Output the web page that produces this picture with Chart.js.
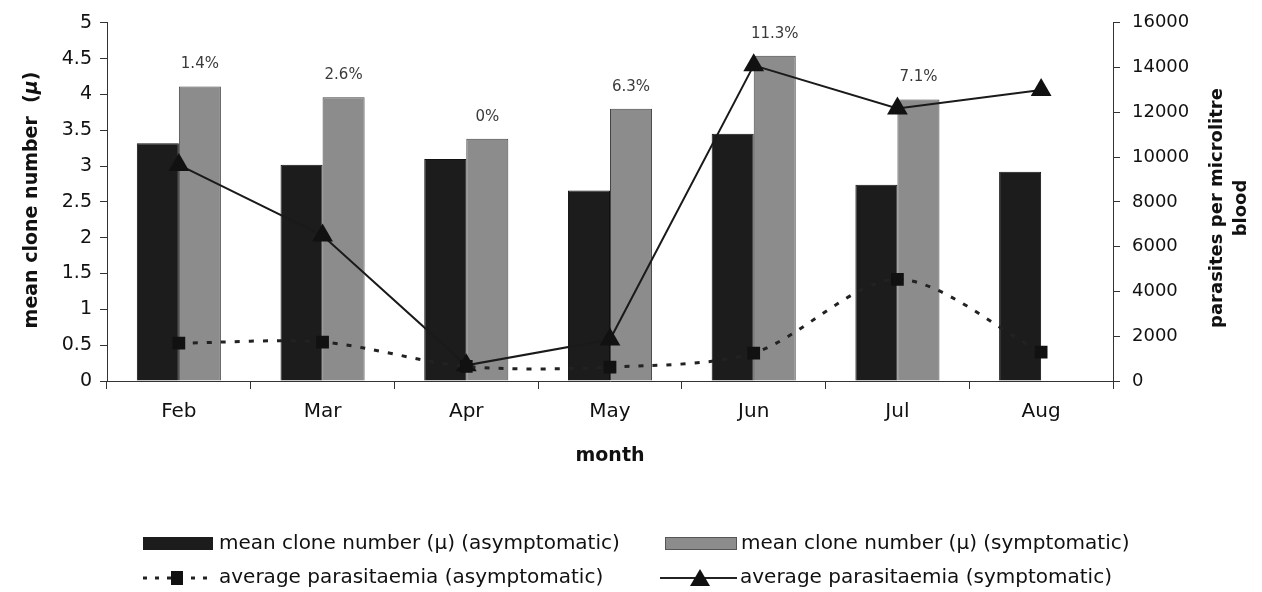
<!DOCTYPE html>
<html>
<head>
<meta charset="utf-8">
<script src="https://cdn.jsdelivr.net/npm/chart.js@4"></script>
<style>
  html, body { margin: 0; padding: 0; background: #fff; }
  #wrap { width: 1262px; height: 592px; position: relative; }
</style>
</head>
<body>
<div id="wrap"><canvas id="chart" width="1262" height="592"></canvas></div>
<script>
// Data
const months = ["Feb", "Mar", "Apr", "May", "Jun", "Jul", "Aug"];
const cloneAsym = [3.32, 3.02, 3.10, 2.66, 3.45, 2.74, 2.92];
const cloneSym = [4.11, 3.96, 3.38, 3.80, 4.54, 3.93, null];
const symPercent = ["1.4%", "2.6%", "0%", "6.3%", "11.3%", "7.1%", ""];
const parasAsym = [1690, 1740, 650, 620, 1250, 4540, 1290];
const parasSym = [9650, 6500, 700, 1850, 14100, 12170, 13000];
const leftTicks = [0, 0.5, 1, 1.5, 2, 2.5, 3, 3.5, 4, 4.5, 5];
const rightTicks = [0, 2000, 4000, 6000, 8000, 10000, 12000, 14000, 16000];

const FONT = "'DejaVu Sans', sans-serif";
const DARK = "#1c1c1c";
const GREY = "#8c8c8c";

// Draws the axis titles, percentage labels and the legend
const extras = {
    id: "extras",
    afterDatasetsDraw(chart) {
        const ctx = chart.ctx;
        const meta = chart.getDatasetMeta(1);
        ctx.save();
        ctx.font = "15px " + FONT;
        ctx.fillStyle = "#3a3a3a";
        ctx.textAlign = "center";
        ctx.textBaseline = "middle";
        meta.data.forEach((bar, i) => {
            if (symPercent[i] && cloneSym[i] != null) ctx.fillText(symPercent[i], bar.x, bar.y - 22);
        });
        ctx.restore();
    },
    afterDraw(chart) {
        const ctx = chart.ctx;
        const area = chart.chartArea;
        ctx.save();
        ctx.fillStyle = "#111";
        ctx.textBaseline = "middle";
        ctx.textAlign = "center";

        // left title, with italic mu
        ctx.save();
        ctx.translate(32, 200);
        ctx.rotate(-Math.PI / 2);
        ctx.font = "bold 19px " + FONT;
        const t1 = "mean clone number  (";
        const t2 = "\u03bc";
        const t3 = ")";
        const w1 = ctx.measureText(t1).width, w3 = ctx.measureText(t3).width;
        ctx.font = "italic bold 19px " + FONT;
        const w2 = ctx.measureText(t2).width;
        let x = -(w1 + w2 + w3) / 2;
        ctx.textAlign = "left";
        ctx.font = "bold 19px " + FONT;
        ctx.fillText(t1, x, 0);
        ctx.font = "italic bold 19px " + FONT;
        ctx.fillText(t2, x + w1, 0);
        ctx.font = "bold 19px " + FONT;
        ctx.fillText(t3, x + w1 + w2, 0);
        ctx.restore();

        // right title
        ctx.save();
        ctx.translate(1229, 208);
        ctx.rotate(-Math.PI / 2);
        ctx.font = "bold 18px " + FONT;
        ctx.fillText("parasites per microlitre", 0, -12);
        ctx.fillText("blood", 0, 12);
        ctx.restore();

        // x title
        ctx.font = "bold 19px " + FONT;
        ctx.fillText("month", (area.left + area.right) / 2, 456);

        // legend
        ctx.font = "20px " + FONT;
        ctx.textAlign = "left";
        ctx.fillStyle = DARK;
        ctx.fillRect(143, 537, 70, 13);
        ctx.fillStyle = GREY;
        ctx.fillRect(665, 537, 72, 13);
        ctx.strokeStyle = "#555";
        ctx.lineWidth = 1;
        ctx.strokeRect(665.5, 537.5, 71, 12);

        ctx.fillStyle = "#111";
        ctx.fillText("mean clone number (\u03bc) (asymptomatic)", 219, 544);
        ctx.fillText("mean clone number (\u03bc) (symptomatic)", 741, 544);

        ctx.strokeStyle = "#222";
        ctx.lineWidth = 3;
        ctx.setLineDash([4, 8]);
        ctx.beginPath();
        ctx.moveTo(143, 578);
        ctx.lineTo(213, 578);
        ctx.stroke();
        ctx.setLineDash([]);
        ctx.fillStyle = "#111";
        ctx.fillRect(171, 571, 12, 14);

        ctx.lineWidth = 2;
        ctx.beginPath();
        ctx.moveTo(660, 578);
        ctx.lineTo(737, 578);
        ctx.stroke();
        ctx.beginPath();
        ctx.moveTo(700, 569);
        ctx.lineTo(710, 586);
        ctx.lineTo(690, 586);
        ctx.closePath();
        ctx.fill();

        ctx.fillText("average parasitaemia (asymptomatic)", 219, 578);
        ctx.fillText("average parasitaemia (symptomatic)", 740, 578);
        ctx.restore();
    }
};

const ctx = document.getElementById("chart").getContext("2d");
new Chart(ctx, {
    type: "bar",
    data: {
        labels: months,
        datasets: [
            {
                label: "mean clone number (\u03bc) (asymptomatic)",
                data: cloneAsym,
                backgroundColor: DARK,
                borderColor: "#111",
                borderWidth: 1,
                yAxisID: "y",
                order: 2
            },
            {
                label: "mean clone number (\u03bc) (symptomatic)",
                data: cloneSym,
                backgroundColor: GREY,
                borderColor: "#444",
                borderWidth: 1,
                yAxisID: "y",
                order: 2
            },
            {
                type: "line",
                label: "average parasitaemia (asymptomatic)",
                data: parasAsym,
                borderColor: "#222",
                borderWidth: 3,
                borderDash: [5, 9],
                tension: 0.3,
                pointStyle: "rect",
                pointRadius: 9,
                pointBackgroundColor: "#111",
                pointBorderColor: "#111",
                pointBorderWidth: 0,
                yAxisID: "y1",
                order: 0
            },
            {
                type: "line",
                label: "average parasitaemia (symptomatic)",
                data: parasSym,
                borderColor: "#1a1a1a",
                borderWidth: 2,
                tension: 0,
                pointStyle: "triangle",
                pointRadius: 12,
                pointBackgroundColor: "#111",
                pointBorderColor: "#111",
                pointBorderWidth: 0,
                yAxisID: "y1",
                order: 1
            }
        ]
    },
    options: {
        responsive: false,
        animation: false,
        layout: { padding: { top: 20, left: 0, right: 0, bottom: 0 } },
        plugins: {
            legend: { display: false },
            tooltip: { enabled: false }
        },
        datasets: {
            bar: { categoryPercentage: 0.585, barPercentage: 1.0 }
        },
        scales: {
            x: {
                offset: true,
                grid: { offset: true, drawOnChartArea: false, color: "#333", tickLength: 8 },
                border: { color: "#333", width: 1 },
                ticks: { color: "#111", font: { family: FONT, size: 20 }, padding: 11 },
                afterFit(scale) { scale.height = 211; }
            },
            y: {
                position: "left",
                min: 0,
                max: 5,
                afterBuildTicks(scale) { scale.ticks = leftTicks.map(v => ({ value: v })); },
                grid: { drawOnChartArea: false, color: "#333", tickLength: 7 },
                border: { color: "#333", width: 1 },
                ticks: { color: "#111", font: { family: FONT, size: 19 }, padding: 8, callback: v => String(v) },
                afterFit(scale) { scale.width = 107; }
            },
            y1: {
                position: "right",
                min: 0,
                max: 16000,
                afterBuildTicks(scale) { scale.ticks = rightTicks.map(v => ({ value: v })); },
                grid: { drawOnChartArea: false, color: "#333", tickLength: 7 },
                border: { color: "#333", width: 1 },
                ticks: { color: "#111", font: { family: FONT, size: 18 }, padding: 12, callback: v => String(v) },
                afterFit(scale) { scale.width = 149; }
            }
        }
    },
    plugins: [extras]
});
</script>
</body>
</html>
